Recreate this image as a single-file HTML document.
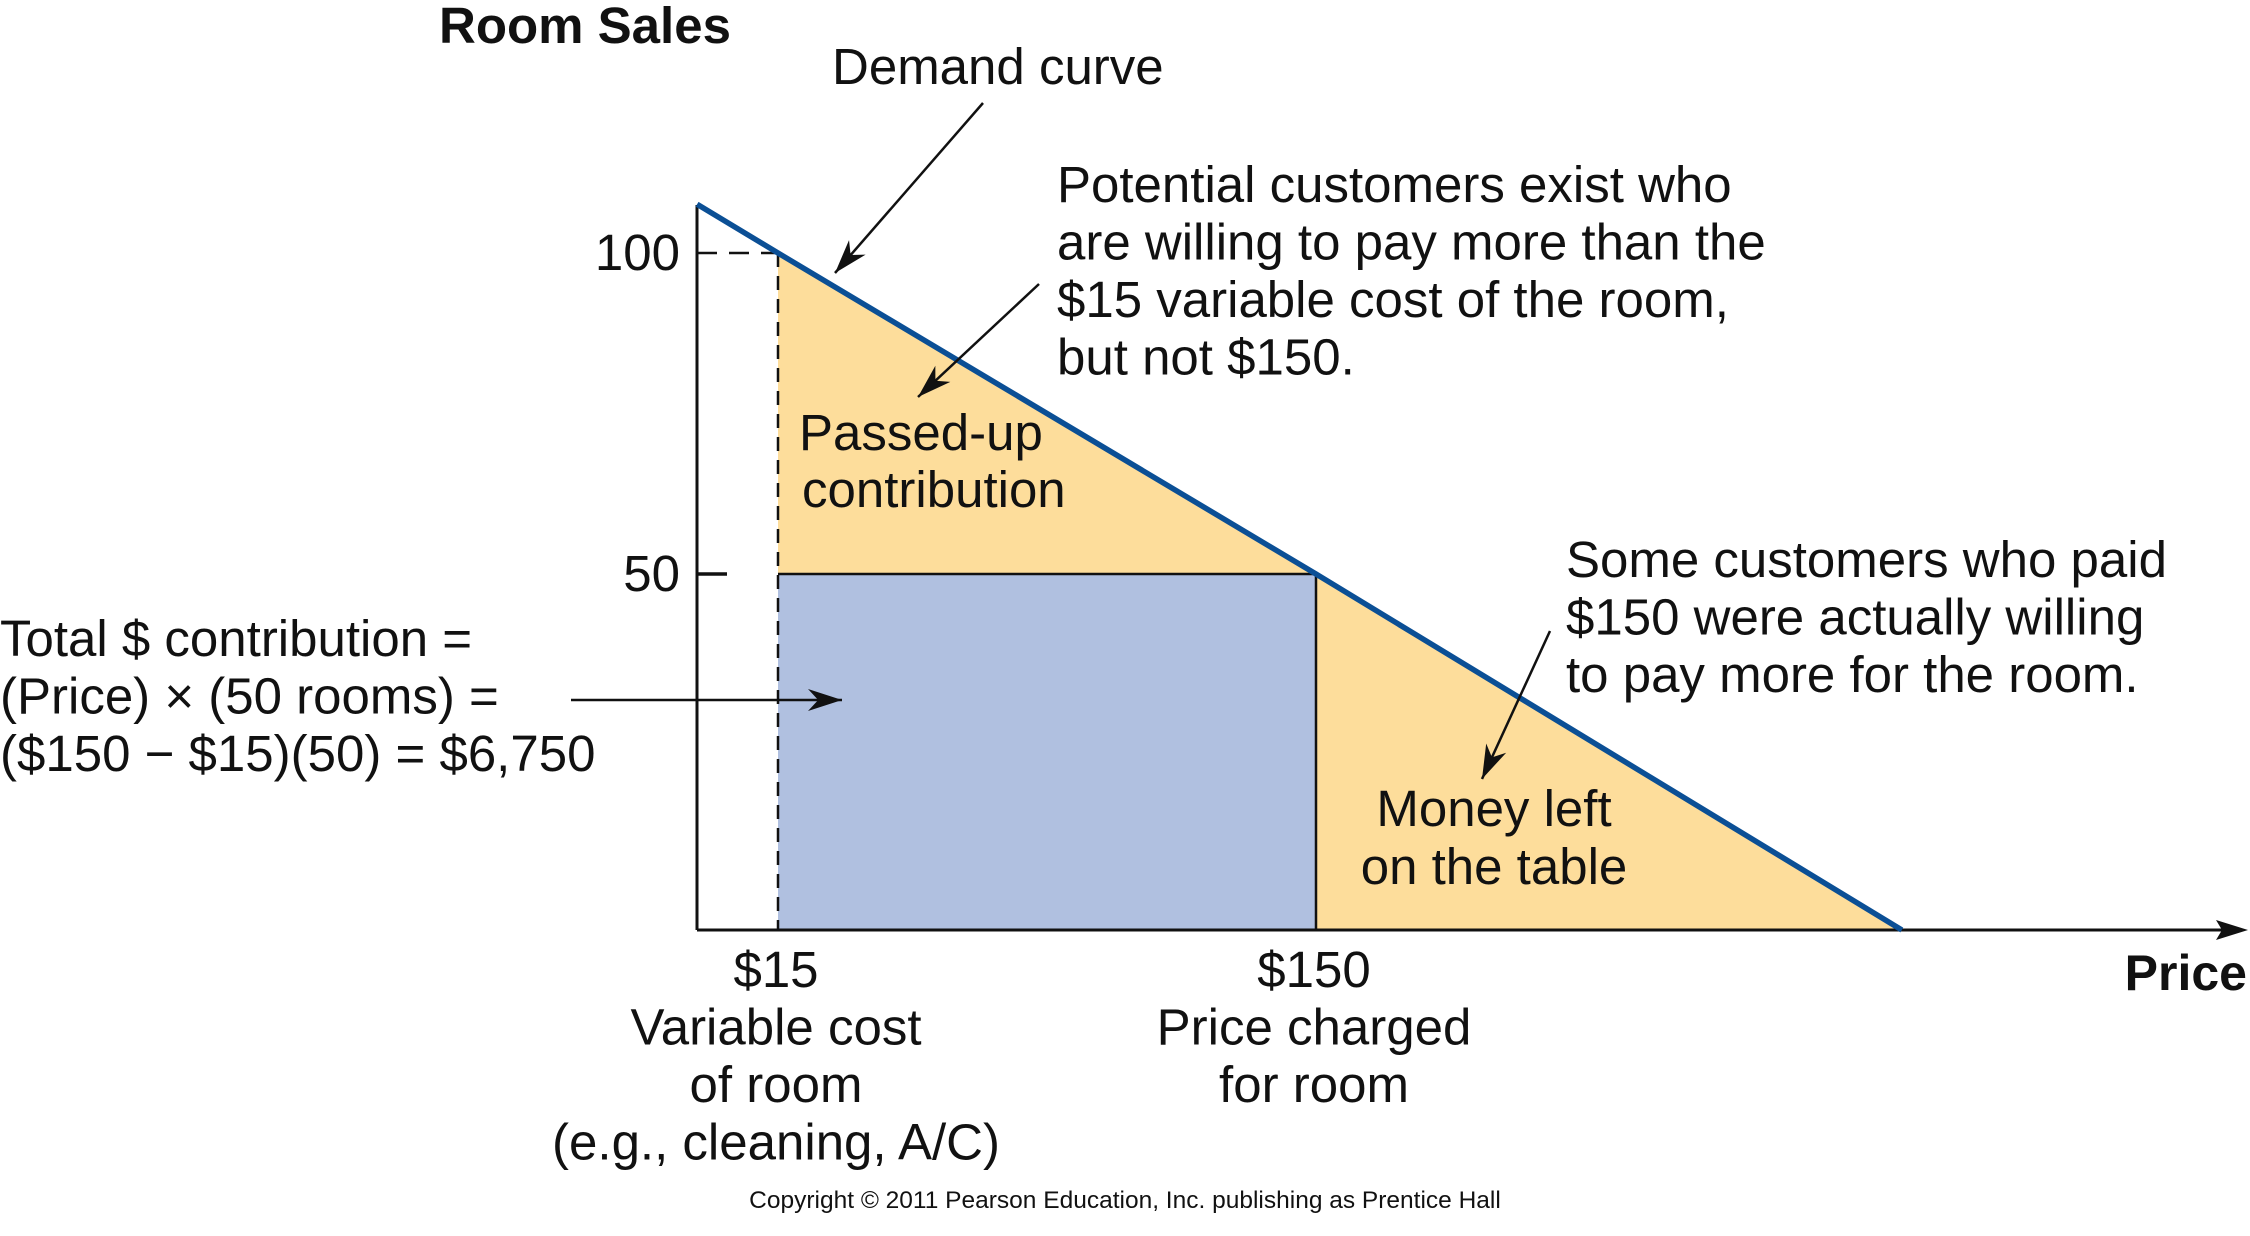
<!DOCTYPE html>
<html><head><meta charset="utf-8"><style>
html,body{margin:0;padding:0;background:#fff;}
svg{display:block;font-family:"Liberation Sans",Arial,sans-serif;}
</style></head><body>
<svg id="chart" width="2250" height="1236" viewBox="0 0 2250 1236" xmlns="http://www.w3.org/2000/svg">
<g id="marks"></g>
<g id="texts" font-size="51" fill="#111"></g>
</svg>
<script>
// Data
const demandPrices = [-5.3, 15, 150, 297];
const demandRooms = [107.6, 100, 50, -5.5];
const variableCost = 15;
const priceCharged = 150;
const roomsSold = 50;
const yTickValues = [100, 50];
const yTickLabels = ["100", "50"];

// Axis functions
const xS = p => 778 + (p - 15) * (538 / 135);
const yS = r => 574 - (r - 50) * (321 / 50);
const axisX = 697, axisY = 930;
const NS = "http://www.w3.org/2000/svg";
const marks = document.getElementById('marks');
const texts = document.getElementById('texts');
function mk(tag, attrs, parent) {
  const e = document.createElementNS(NS, tag);
  for (const k in attrs) e.setAttribute(k, attrs[k]);
  (parent || marks).appendChild(e);
  return e;
}
function demandY(p) {
  for (let i = 0; i < demandPrices.length - 1; i++) {
    if (p >= demandPrices[i] && p <= demandPrices[i + 1]) {
      const t = (p - demandPrices[i]) / (demandPrices[i + 1] - demandPrices[i]);
      return demandRooms[i] + t * (demandRooms[i + 1] - demandRooms[i]);
    }
  }
  return demandRooms[demandRooms.length - 1];
}
const endP = demandPrices[demandPrices.length - 1];

let el = mk('polygon', {points: `${xS(variableCost)},${yS(demandY(variableCost))} ${xS(priceCharged)},${yS(roomsSold)} ${xS(variableCost)},${yS(roomsSold)}`, fill: '#fddd9b'});


el = mk('polygon', {points: `${xS(priceCharged)},${yS(roomsSold)} ${xS(endP)},${axisY} ${xS(priceCharged)},${axisY}`, fill: '#fddd9b'});


el = mk('rect', {x: xS(variableCost), y: yS(roomsSold), width: xS(priceCharged) - xS(variableCost), height: axisY - yS(roomsSold), fill: '#b0c0e0'});


el = mk('line', {x1: xS(variableCost), y1: yS(roomsSold), x2: xS(priceCharged), y2: yS(roomsSold), stroke: '#111', 'stroke-width': 2.5});


el = mk('line', {x1: xS(priceCharged), y1: yS(roomsSold), x2: xS(priceCharged), y2: axisY, stroke: '#111', 'stroke-width': 2.5});


el = mk('line', {x1: xS(variableCost), y1: yS(demandY(variableCost)), x2: xS(variableCost), y2: axisY, stroke: '#111', 'stroke-width': 2.5, 'stroke-dasharray': '14 9'});


el = mk('line', {x1: axisX, y1: 205, x2: axisX, y2: axisY, stroke: '#111', 'stroke-width': 3});


el = mk('line', {x1: axisX, y1: axisY, x2: 2230, y2: axisY, stroke: '#111', 'stroke-width': 3});


el = mk('polygon', {points: `2248,${axisY} 2216,${axisY - 10} 2222,${axisY} 2216,${axisY + 10}`, fill: '#111'});


yTickValues.forEach((v, i) => {
  const y = yS(v);
  let t;
  if (i === 0) t = mk('line', {x1: axisX, y1: y, x2: xS(variableCost), y2: y, stroke: '#111', 'stroke-width': 2.5, 'stroke-dasharray': '20 12'});
  else t = mk('line', {x1: axisX, y1: y, x2: axisX + 30, y2: y, stroke: '#111', 'stroke-width': 3.5});
  
  
  const lb = mk('text', {x: 680, y: y + 17, 'text-anchor': 'end'}, texts);
  lb.textContent = yTickLabels[i];
  
  
});
el = mk('polyline', {points: demandPrices.map((p, i) => `${xS(p)},${Math.min(yS(demandRooms[i]), axisY)}`).join(' '), fill: 'none', stroke: '#0b4f95', 'stroke-width': 5.5});



function arrow(x1, y1, x2, y2, name) {
  const a = mk('line', {x1, y1, x2, y2, stroke: '#111', 'stroke-width': 2.5});
  
  
  const ang = Math.atan2(y2 - y1, x2 - x1), L = 34, W = 11;
  const bx = x2 - L * Math.cos(ang), by = y2 - L * Math.sin(ang);
  const px = -Math.sin(ang) * W, py = Math.cos(ang) * W;
  const h = mk('polygon', {points: `${x2},${y2} ${bx + px},${by + py} ${bx + 0.3 * L * Math.cos(ang)},${by + 0.3 * L * Math.sin(ang)} ${bx - px},${by - py}`, fill: '#111'});
  
  
}
arrow(983, 103, 835, 273, 'demand-curve-arrow');
arrow(1039, 284, 918, 397, 'potential-customers-arrow');
arrow(1550, 631, 1482, 779, 'money-left-arrow');
arrow(571, 700, 842, 700, 'total-contribution-arrow');

function txt(s, x, y, opts, name) {
  const t = mk('text', Object.assign({x, y}, opts || {}), texts);
  t.textContent = s;
  
  
}
txt('Room Sales', 439, 43, {'font-weight': 'bold', 'font-size': 51}, 'y-axis-title');
txt('Price', 2247, 990, {'font-weight': 'bold', 'font-size': 50, 'text-anchor': 'end'}, 'x-axis-title');
txt('Demand curve', 832, 84, {}, 'demand-curve-label');
['Potential customers exist who', 'are willing to pay more than the', '$15 variable cost of the room,', 'but not $150.'].forEach((s, i) => txt(s, 1057, 202 + i * 57.5, {}, 'potential-customers-note-' + (i + 1)));
txt('Passed-up', 799, 450, {}, 'passed-up-label-1');
txt('contribution', 802, 507, {}, 'passed-up-label-2');
['Some customers who paid', '$150 were actually willing', 'to pay more for the room.'].forEach((s, i) => txt(s, 1566, 577 + i * 57.5, {}, 'some-customers-note-' + (i + 1)));
txt('Money left', 1494, 826, {'text-anchor': 'middle'}, 'money-left-label-1');
txt('on the table', 1494, 884, {'text-anchor': 'middle'}, 'money-left-label-2');
['Total $ contribution =', '(Price) \u00d7 (50 rooms) =', '($150 \u2212 $15)(50) = $6,750'].forEach((s, i) => txt(s, 0, 656 + i * 57.5, {}, 'total-contribution-note-' + (i + 1)));
['$15', 'Variable cost', 'of room', '(e.g., cleaning, A/C)'].forEach((s, i) => txt(s, xS(variableCost) - 2, 987 + i * 57.5, {'text-anchor': 'middle'}, 'x-label-variable-cost-' + (i + 1)));
['$150', 'Price charged', 'for room'].forEach((s, i) => txt(s, xS(priceCharged) - 2, 987 + i * 57.5, {'text-anchor': 'middle'}, 'x-label-price-charged-' + (i + 1)));
txt('Copyright \u00a9 2011 Pearson Education, Inc. publishing as Prentice Hall', 1125, 1208, {'text-anchor': 'middle', 'font-size': 24.5}, 'copyright');
</script>
</body></html>
